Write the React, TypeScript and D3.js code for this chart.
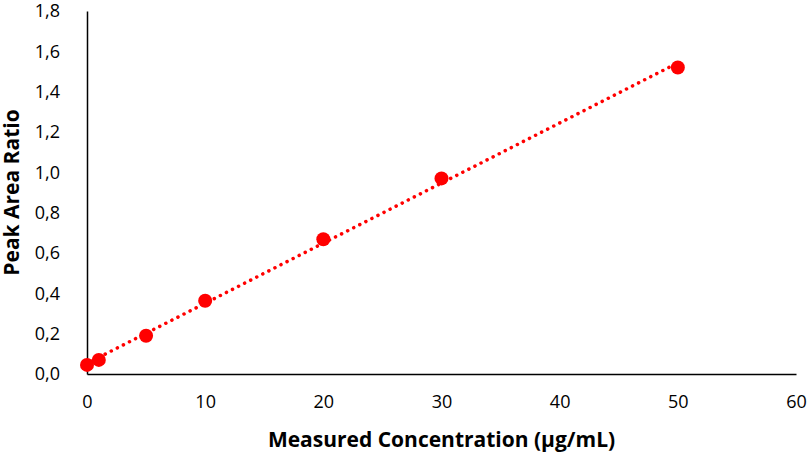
import { useEffect, useRef } from 'react';
import * as d3 from 'd3';

const concentrations = [0, 1, 5, 10, 20, 30, 50];
const peakRatios = [0.045, 0.07, 0.19, 0.363, 0.668, 0.97, 1.52];
const xTicks = [0, 10, 20, 30, 40, 50, 60];
const yTicks = [0, 0.2, 0.4, 0.6, 0.8, 1.0, 1.2, 1.4, 1.6, 1.8];

const FONT = '"Open Sans", "Noto Sans", sans-serif';

export default function App() {
  const svgRef = useRef<SVGSVGElement>(null);

  useEffect(() => {
    if (!svgRef.current) return;
    const svg = d3.select(svgRef.current);
    svg.selectAll('*').remove();

    const width = 809;
    const height = 454;
    const margin = { top: 11, right: 13, bottom: 80, left: 87 };
    const iW = width - margin.left - margin.right;
    const iH = height - margin.top - margin.bottom;

    const x = d3.scaleLinear().domain([0, 60]).range([0, iW]);
    const y = d3.scaleLinear().domain([0, 1.8]).range([iH, 0]);

    const g = svg
      .append('g')
      .attr('transform', `translate(${margin.left},${margin.top})`);

    // y axis
    const yAxis = g
      .append('g')
      .call(
        d3
          .axisLeft(y)
          .tickValues(yTicks)
          .tickSize(0)
          .tickPadding(27)
          .tickFormat((d) => d3.format('.1f')(d as number).replace('.', ','))
      );
    yAxis.select('.domain').attr('stroke', '#000').attr('stroke-width', 1.5);
    yAxis
      .selectAll('text')
      .attr('font-family', FONT)
      .attr('font-size', 18)
      .attr('fill', '#000');

    // x axis
    const xAxis = g
      .append('g')
      .attr('transform', `translate(0,${iH})`)
      .call(d3.axisBottom(x).tickValues(xTicks).tickSize(0).tickPadding(21));
    xAxis.select('.domain').attr('stroke', '#000').attr('stroke-width', 1.5);
    xAxis
      .selectAll('text')
      .attr('font-family', FONT)
      .attr('font-size', 18)
      .attr('fill', '#000');

    // linear trendline
    const mx = d3.mean(concentrations)!;
    const my = d3.mean(peakRatios)!;
    const slope =
      d3.sum(concentrations, (c, i) => (c - mx) * (peakRatios[i] - my)) /
      d3.sum(concentrations, (c) => (c - mx) ** 2);
    const intercept = my - slope * mx;
    const xEnds = [0, 50];
    g.append('path')
      .datum(xEnds)
      .attr(
        'd',
        d3
          .line<number>()
          .x((d) => x(d))
          .y((d) => y(intercept + slope * d))
      )
      .attr('fill', 'none')
      .attr('stroke', '#ff0000')
      .attr('stroke-width', 3.5)
      .attr('stroke-linecap', 'round')
      .attr('stroke-dasharray', '0.1 6.7');

    // points
    g.selectAll('circle')
      .data(concentrations)
      .join('circle')
      .attr('cx', (d) => x(d))
      .attr('cy', (_, i) => y(peakRatios[i]))
      .attr('r', 7)
      .attr('fill', '#ff0000');

    // titles
    svg
      .append('text')
      .attr('x', margin.left + iW / 2)
      .attr('y', 447)
      .attr('text-anchor', 'middle')
      .attr('font-family', FONT)
      .attr('font-weight', 'bold')
      .attr('font-size', 21)
      .text('Measured Concentration (µg/mL)');

    svg
      .append('text')
      .attr('transform', `translate(19,${margin.top + iH / 2}) rotate(-90)`)
      .attr('text-anchor', 'middle')
      .attr('font-family', FONT)
      .attr('font-weight', 'bold')
      .attr('font-size', 21)
      .text('Peak Area Ratio');
  }, []);

  return (
    <svg
      ref={svgRef}
      width={809}
      height={454}
      viewBox="0 0 809 454"
      style={{ display: 'block', position: 'absolute', left: 0, top: 0, background: '#fff' }}
    />
  );
}
